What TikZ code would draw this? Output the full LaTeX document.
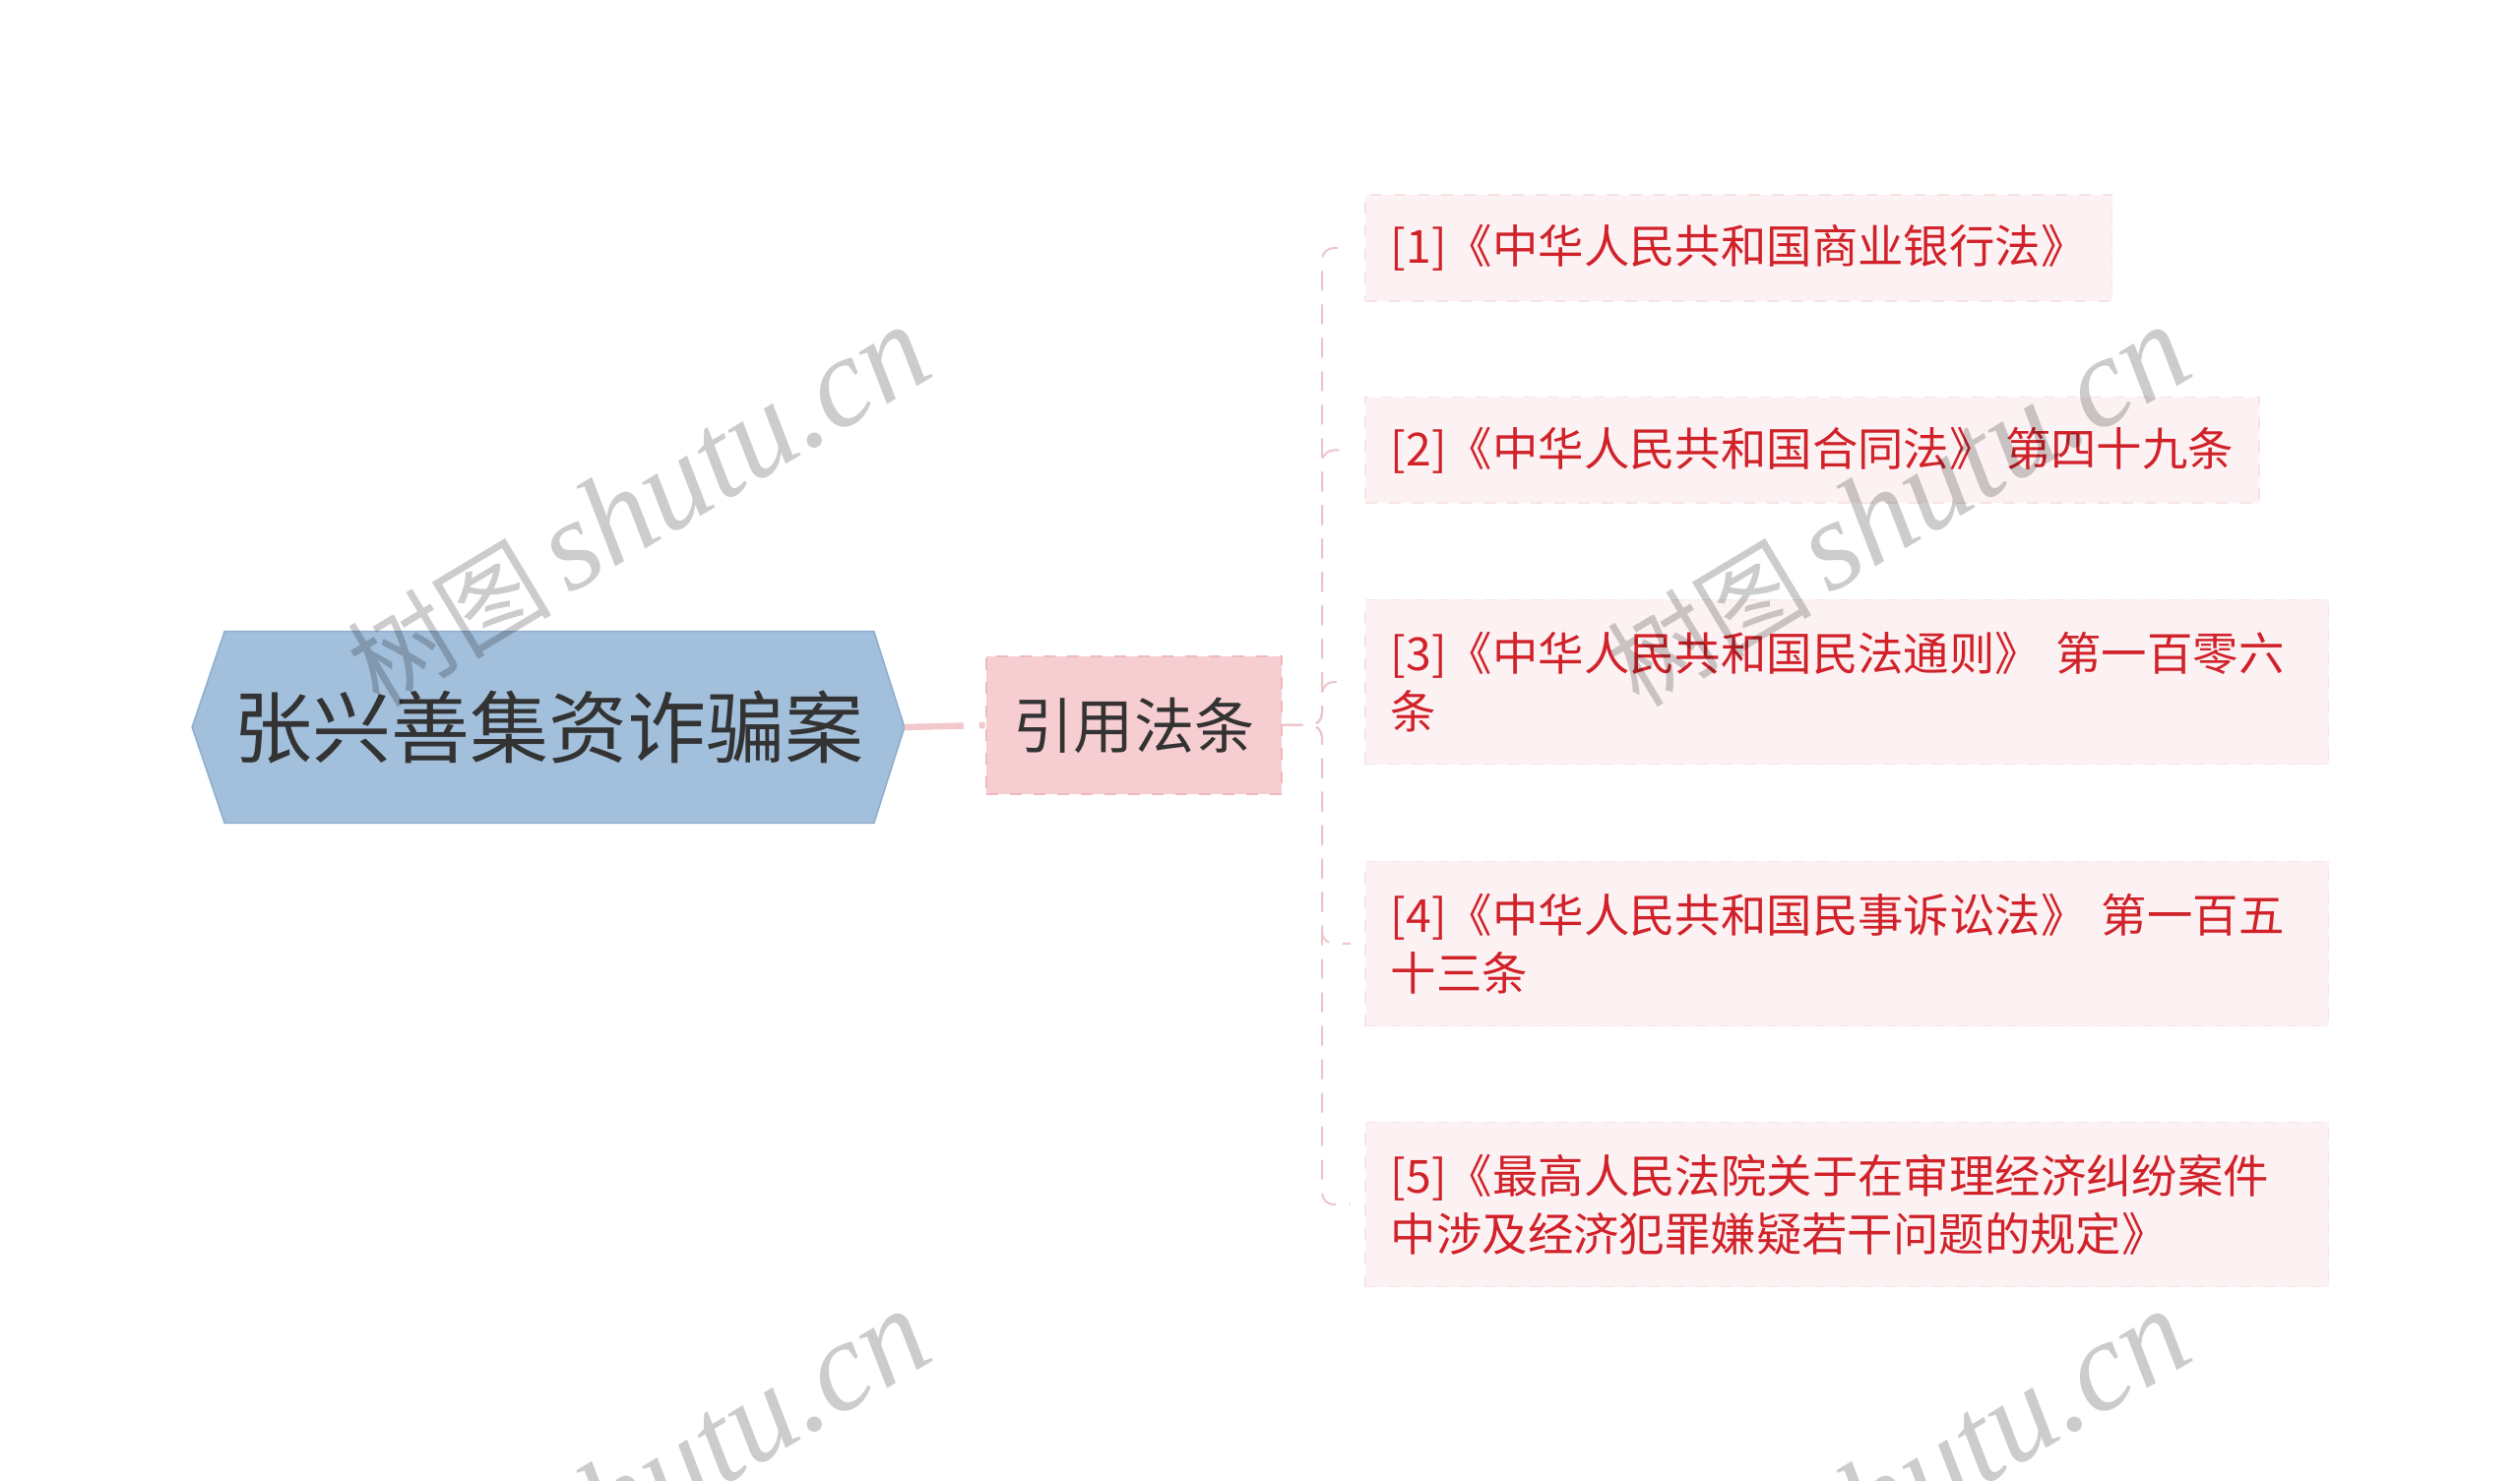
\documentclass[tikz,border=0pt]{standalone}
\usepackage{fontspec}
\setmainfont{Noto Sans CJK SC}
\newfontfamily\wmserif{Liberation Serif}
\usetikzlibrary{calc}
\pgfdeclarelayer{bg}
\pgfsetlayers{bg,main}
\definecolor{rootfill}{HTML}{A2BFDB}
\definecolor{rootedge}{HTML}{8FAED0}
\definecolor{textdark}{HTML}{333333}
\definecolor{lfill}{HTML}{F6CDD0}
\definecolor{ledge}{HTML}{EFB9BE}
\definecolor{cfill}{HTML}{FDF2F3}
\definecolor{cedge}{HTML}{F8E2E5}
\definecolor{ctext}{HTML}{D1222A}
\definecolor{linkcol}{HTML}{F3C8CC}
\definecolor{spinecol}{HTML}{EDC6CA}
\tikzset{
  rootbox/.style={minimum width=180.5pt, minimum height=48.3pt, inner sep=0pt,
    text=textdark, font=\fontsize{20pt}{24pt}\selectfont},
  lbox/.style={fill=lfill, draw=ledge, dashed, line width=0.5pt,
    minimum width=75.2pt, minimum height=35.1pt, inner sep=0pt,
    text=textdark, font=\fontsize{15.3pt}{18pt}\selectfont},
  cbox/.style={fill=cfill, draw=cedge, dashed, line width=0.4pt, anchor=west,
    inner xsep=6.5pt, inner ysep=0pt, minimum height=26.9pt, align=left,
    text=ctext, font=\fontsize{11.6pt}{14.7pt}\selectfont},
  cwide/.style={cbox, text width=231.7pt, minimum height=41.8pt},
  mainlink/.style={draw=linkcol, line width=1.6pt, dash pattern=on 15pt off 4pt},
  spine/.style={draw=spinecol, line width=0.5pt, dash pattern=on 5pt off 3.5pt, rounded corners=3pt},
  wm/.style={text=black, text opacity=0.2, inner sep=0pt}
}
\begin{document}
\begin{tikzpicture}[x=0.25pt,y=-0.25pt]
\useasboundingbox (0,0) rectangle (2560,1505);
\begin{pgfonlayer}{bg}
\fill[white] (0,0) rectangle (2560,1505);
\end{pgfonlayer}

% root
\node[rootbox] (root) at (557,739) {张兴善集资诈骗案};
\begin{pgfonlayer}{bg}
\filldraw[fill=rootfill, draw=rootedge, line width=0.4pt]
  (root.west) -- ($(root.north west)+(33,0)$) -- ($(root.north east)+(-31,0)$)
  -- (root.east) -- ($(root.south east)+(-31,0)$) -- ($(root.south west)+(33,0)$) -- cycle;
\end{pgfonlayer}

% level 1
\node[lbox] (L) at (1152,737) {引用法条};

% children
\node[cbox] (c1) at (1386,252) {[1]《中华人民共和国商业银行法》};
\node[cbox] (c2) at (1386,457.5) {[2]《中华人民共和国合同法》 第四十九条};
\node[cwide] (c3) at (1386,693) {[3]《中华人民共和国民法通则》 第一百零六\\条};
\node[cwide] (c4) at (1386,959) {[4]《中华人民共和国民事诉讼法》 第一百五\\十三条};
\node[cwide] (c5) at (1386,1224) {[5]《最高人民法院关于在审理经济纠纷案件\\中涉及经济犯罪嫌疑若干问题的规定》};

% connectors
\draw[mainlink] (root.east) -- (L.west);
\coordinate (sp) at (1343,737);
\foreach \c in {c1,c2,c3,c4,c5}{
  \draw[spine] (L.east) -- (sp) |- ($(\c.west)+(-14,0)$);
}

% watermarks
\begin{scope}
\clip (0,0) rectangle (2560,1505);
\foreach \n/\x/\y in {wm1/648/515, wm2/1928/515, wm3/648/1515, wm4/1928/1515}{
  \node[wm, rotate=31] (\n) at (\x,\y) {\fontsize{26pt}{28pt}\selectfont 树图\,{\fontsize{32.5pt}{34pt}\wmserif\itshape shutu.cn}};
}
\end{scope}
\end{tikzpicture}
\end{document}
